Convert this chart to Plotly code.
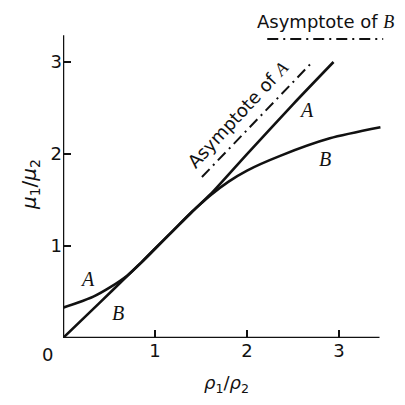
import plotly.graph_objects as go

# Curve A: mu1/mu2 against rho1/rho2
rho_a = [0.0, 0.15, 0.33, 0.51, 0.7, 0.85, 1.0, 1.2, 1.4, 1.6, 2.0, 2.5, 2.94]
mu_a = [0.33, 0.38, 0.45, 0.55, 0.68, 0.82, 0.97, 1.17, 1.37, 1.56, 2.0, 2.54, 3.0]

# Curve B
rho_b = [0.0, 0.4, 0.7, 0.85, 1.0, 1.2, 1.4, 1.6, 1.8, 2.0, 2.36, 2.9, 3.45]
mu_b = [0.0, 0.385, 0.675, 0.82, 0.97, 1.17, 1.37, 1.55, 1.70, 1.82, 1.98, 2.17, 2.29]

# Asymptotes
asym_a_x = [1.51, 2.71]
asym_a_y = [1.75, 3.0]
asym_b_x = [2.22, 3.48]
asym_b_y = [3.25, 3.25]

tick_vals = [1, 2, 3]
tick_text = ["1", "2", "3"]

X_MAX, Y_MAX = 3.554, 3.348
AX_X_END, AX_Y_END = 3.44, 3.29

ink = "#111111"
serif = "Liberation Serif"
sans = "DejaVu Sans"

fig = go.Figure()
curve_line = dict(color=ink, width=2.6, shape="spline", smoothing=0.7)
fig.add_trace(go.Scatter(x=rho_a, y=mu_a, mode="lines", line=curve_line))
fig.add_trace(go.Scatter(x=rho_b, y=mu_b, mode="lines", line=curve_line))
fig.add_trace(go.Scatter(x=asym_a_x, y=asym_a_y, mode="lines",
                         line=dict(color=ink, width=2, dash="11px,5px,2px,5px")))
fig.add_trace(go.Scatter(x=asym_b_x, y=asym_b_y, mode="lines",
                         line=dict(color=ink, width=2, dash="11px,5px,2px,5px")))

# axis lines
fig.add_shape(type="line", x0=0, y0=0, x1=AX_X_END, y1=0,
              line=dict(color=ink, width=2.5))
fig.add_shape(type="line", x0=0, y0=0, x1=0, y1=AX_Y_END,
              line=dict(color=ink, width=2.5))


def italic(s):
    return f"<span style='font-family:{serif}'><i>{s}</i></span>"


labels = [
    (0.27, 0.64, "A"),
    (0.6, 0.27, "B"),
    (2.65, 2.48, "A"),
    (2.85, 1.95, "B"),
]
for lx, ly, t in labels:
    fig.add_annotation(x=lx, y=ly, text=f"<i>{t}</i>", showarrow=False,
                       font=dict(family=serif, size=20, color=ink))

fig.add_annotation(x=1.90, y=2.43, text="Asymptote of " + italic("A"),
                   textangle=-47, showarrow=False,
                   font=dict(family=sans, size=18, color=ink))
fig.add_annotation(x=0.804, y=1.026, xref="paper", yref="paper",
                   xanchor="center", yanchor="middle",
                   text="Asymptote of " + italic("B"),
                   showarrow=False, font=dict(family=sans, size=18, color=ink))
fig.add_annotation(x=-0.046, y=-0.055, xref="paper", yref="paper",
                   xanchor="center", yanchor="middle", text="0",
                   showarrow=False, font=dict(family=sans, size=18, color=ink))

fig.update_layout(
    width=405, height=405,
    margin=dict(l=63, r=15, t=30, b=67),
    paper_bgcolor="white", plot_bgcolor="white",
    showlegend=False,
    xaxis=dict(range=[0, X_MAX], tickvals=tick_vals, ticktext=tick_text,
               ticks="inside", ticklen=8, tickwidth=2, tickcolor=ink,
               showgrid=False, zeroline=False, showline=False,
               tickfont=dict(family=sans, size=18, color=ink),
               title=dict(text="<i>ρ</i><sub>1</sub>/<i>ρ</i><sub>2</sub>",
                          font=dict(family=sans, size=18, color=ink), standoff=16)),
    yaxis=dict(range=[0, Y_MAX], tickvals=tick_vals, ticktext=tick_text,
               ticks="inside", ticklen=8, tickwidth=2, tickcolor=ink,
               showgrid=False, zeroline=False, showline=False,
               tickfont=dict(family=sans, size=18, color=ink),
               title=dict(text="<i>μ</i><sub>1</sub>/<i>μ</i><sub>2</sub>",
                          font=dict(family=sans, size=20, color=ink), standoff=8)),
)

fig.write_html("out.html")
